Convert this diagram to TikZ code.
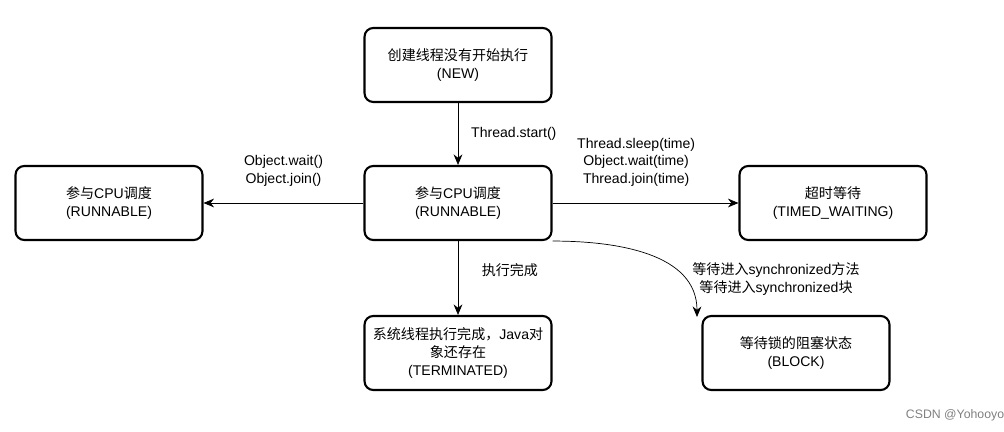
\documentclass[tikz,border=0pt]{standalone}
\usepackage{fontspec}
\setmainfont{Liberation Sans}
\newfontfamily\cjkfont{Noto Sans CJK SC}
\newcommand{\zh}[1]{{\cjkfont #1}}
\usetikzlibrary{arrows.meta}

\begin{document}
\begin{tikzpicture}[x=0.02cm,y=-0.02cm,>={Stealth[length=6pt,width=5pt]},
  state/.style={draw,line width=1.2pt,rounded corners=5pt,minimum width=3.74cm,minimum height=1.48cm,align=center,font=\fontsize{8}{10.5}\selectfont},
  lbl/.style={align=center,font=\fontsize{8}{10}\selectfont}]
  \useasboundingbox (0,0) rectangle (1004,432);
  \node[state] (new) at (458,65) {\zh{创建线程没有开始执行}\\(NEW)};
  \node[state] (run) at (458,203) {\zh{参与}CPU\zh{调度}\\(RUNNABLE)};
  \node[state] (wait) at (109,203) {\zh{参与}CPU\zh{调度}\\(RUNNABLE)};
  \node[state] (timed) at (833,203) {\zh{超时等待}\\(TIMED\_WAITING)};
  \node[state] (term) at (458,353) {\zh{系统线程执行完成，}Java\zh{对}\\\zh{象还存在}\\(TERMINATED)};
  \node[state] (block) at (796,353) {\zh{等待锁的阻塞状态}\\(BLOCK)};
  \coordinate (bin) at (697,317);

  \draw[->] (new) -- node[lbl,right=4pt] {Thread.start()} (run);
  \draw[->] (run) -- node[lbl,above=6pt] {Object.wait()\\Object.join()} (wait);
  \draw[->] (run) -- node[lbl,above=6pt,pos=0.45] {Thread.sleep(time)\\Object.wait(time)\\Thread.join(time)} (timed);
  \draw[->] (run) -- node[lbl,right=10pt,pos=0.4] {\zh{执行完成}} (term);
  \draw[->] (run.south east) to[out=0,in=90] (bin);
  \node[lbl] (sync) at (776,279) {\zh{等待进入}synchronized\zh{方法}\\\zh{等待进入}synchronized\zh{块}};

  \node[font=\fontsize{7}{8}\selectfont,text=gray] (mark) at (955,415) {CSDN @Yohooyo};
\end{tikzpicture}
\end{document}
